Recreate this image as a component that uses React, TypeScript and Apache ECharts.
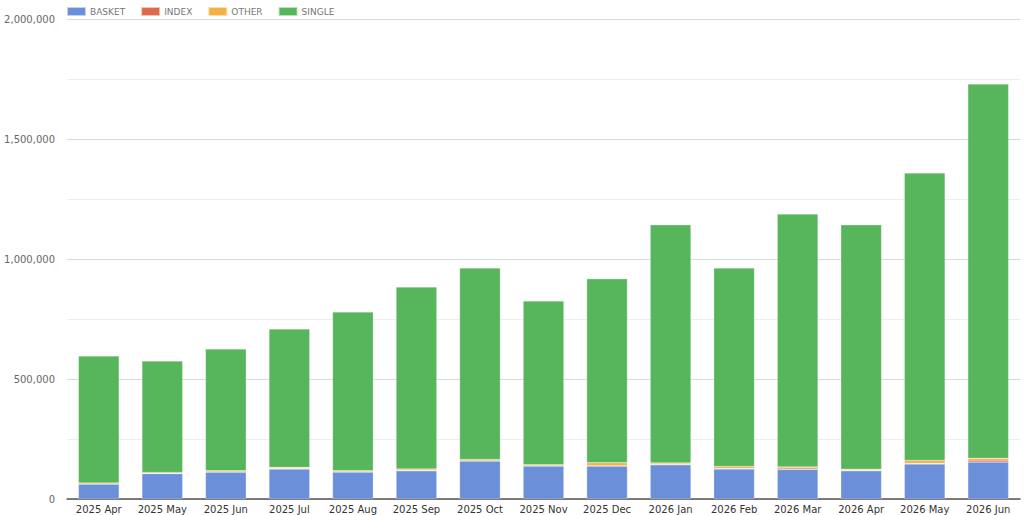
import React, { useEffect, useRef } from "react";
import * as echarts from "echarts";

const categories = [
  "2025 Apr", "2025 May", "2025 Jun", "2025 Jul", "2025 Aug", "2025 Sep", "2025 Oct",
  "2025 Nov", "2025 Dec", "2026 Jan", "2026 Feb", "2026 Mar", "2026 Apr", "2026 May", "2026 Jun",
];
const basket = [62000, 106000, 112000, 125000, 112000, 117000, 158000, 137000, 137000, 142000, 125000, 123000, 117000, 146000, 154000];
const indexVals = [1000, 1000, 1000, 2000, 2000, 2000, 2000, 2000, 2000, 3000, 3000, 6000, 3000, 3000, 8000];
const other = [4000, 4000, 5000, 5000, 4000, 6000, 5000, 4000, 12000, 5000, 8000, 5000, 4000, 12000, 8000];
const totals = [596000, 575000, 625000, 708000, 779000, 883000, 962000, 825000, 917000, 1142000, 962000, 1187000, 1142000, 1358000, 1729000];
const single = totals.map((t, i) => t - basket[i] - indexVals[i] - other[i]);

const colors = ["#6c8fda", "#dc6b4b", "#f7b044", "#57b55b"];

export default function App() {
  const ref = useRef<HTMLDivElement>(null);
  useEffect(() => {
    if (!ref.current) return;
    const chart = echarts.init(ref.current, undefined, { renderer: "svg" });
    const mk = (name: string, data: number[], color: string) => ({
      name,
      type: "bar",
      stack: "total",
      data,
      barWidth: "64%",
      itemStyle: { color, borderColor: "rgba(255,255,255,0.6)", borderWidth: 0.4 },
    });
    chart.setOption({
      animation: false,
      textStyle: { fontFamily: "DejaVu Sans" },
      legend: {
        left: 66,
        top: 6,
        padding: 0,
        itemWidth: 19,
        itemHeight: 9,
        itemGap: 15,
        icon: "rect",
        textStyle: { fontSize: 9, color: "#777", fontFamily: "DejaVu Sans", padding: [0, 0, 0, -1] },
        data: ["BASKET", "INDEX", "OTHER", "SINGLE"],
      },
      grid: { left: 67, right: 4, top: 19, bottom: 16, containLabel: false },
      xAxis: {
        type: "category",
        data: categories,
        axisTick: { show: false },
        axisLine: { lineStyle: { color: "#555", width: 1.5 } },
        axisLabel: { fontSize: 10, color: "#333", margin: 5, interval: 0 },
      },
      yAxis: {
        type: "value",
        min: 0,
        max: 2000000,
        interval: 500000,
        axisLabel: {
          fontSize: 10,
          color: "#666",
          margin: 12,
          formatter: (v: number) => v.toLocaleString("en-US"),
        },
        splitLine: { lineStyle: { color: "#d9d9d9" } },
        minorTick: { show: false, splitNumber: 2 },
        minorSplitLine: { show: true, lineStyle: { color: "#eeeeee" } },
      },
      series: [
        mk("BASKET", basket, colors[0]),
        mk("INDEX", indexVals, colors[1]),
        mk("OTHER", other, colors[2]),
        mk("SINGLE", single, colors[3]),
      ],
    });
    return () => chart.dispose();
  }, []);
  return (
    <div
      ref={ref}
      style={{ position: "fixed", left: 0, top: 0, width: 1024, height: 515, background: "#fff" }}
    />
  );
}
